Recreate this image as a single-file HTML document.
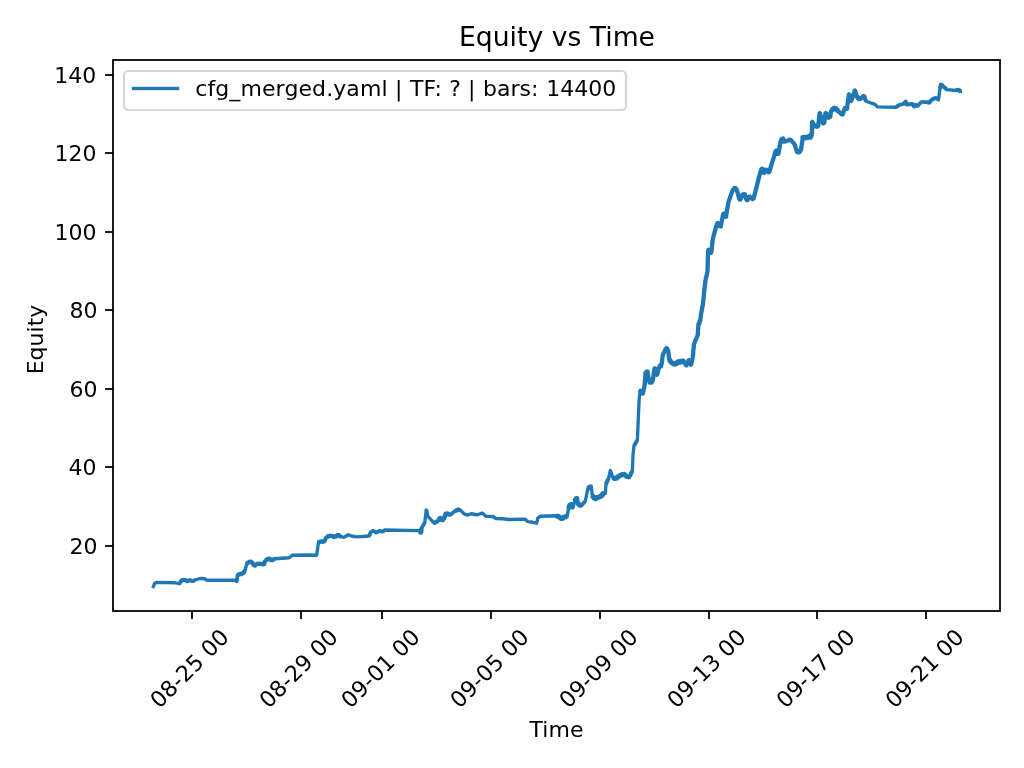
<!DOCTYPE html>
<html lang="en">
<head>
<meta charset="utf-8">
<title>Equity vs Time</title>
<style>
html,body{margin:0;padding:0;background:#fff;}
body{width:1024px;height:768px;overflow:hidden;}
svg{display:block;}
text{font-family:"DejaVu Sans", "Liberation Sans", sans-serif;fill:#000;}
.t10{font-size:22px;}
.t10r{font-size:22.222px;}
.t10v{font-size:22px;}
.t12{font-size:26.667px;}
.ax{stroke:#000;stroke-width:1.778;fill:none;}
</style>
</head>
<body>
<svg width="1024" height="768" viewBox="0 0 1024 768">
<rect x="0" y="0" width="1024" height="768" fill="#ffffff"/>
<!-- tick marks -->
<g class="ax" stroke-linecap="butt">
<line x1="192" y1="611" x2="192" y2="619"/>
<line x1="301" y1="611" x2="301" y2="619"/>
<line x1="382" y1="611" x2="382" y2="619"/>
<line x1="491" y1="611" x2="491" y2="619"/>
<line x1="600" y1="611" x2="600" y2="619"/>
<line x1="709" y1="611" x2="709" y2="619"/>
<line x1="817" y1="611" x2="817" y2="619"/>
<line x1="926" y1="611" x2="926" y2="619"/>
<line x1="105" y1="75" x2="113" y2="75"/>
<line x1="105" y1="153" x2="113" y2="153"/>
<line x1="105" y1="232" x2="113" y2="232"/>
<line x1="105" y1="310" x2="113" y2="310"/>
<line x1="105" y1="389" x2="113" y2="389"/>
<line x1="105" y1="467" x2="113" y2="467"/>
<line x1="105" y1="546" x2="113" y2="546"/>
</g>
<!-- x tick labels -->
<g class="t10r" text-anchor="middle">
<text transform="translate(190.70 669.66) rotate(-45)" y="6.0">08-25 00</text>
<text transform="translate(299.74 669.66) rotate(-45)" y="6.0">08-29 00</text>
<text transform="translate(381.57 669.66) rotate(-45)" y="6.0">09-01 00</text>
<text transform="translate(490.61 669.66) rotate(-45)" y="6.0">09-05 00</text>
<text transform="translate(599.64 669.66) rotate(-45)" y="6.0">09-09 00</text>
<text transform="translate(707.68 669.66) rotate(-45)" y="6.0">09-13 00</text>
<text transform="translate(816.71 669.66) rotate(-45)" y="6.0">09-17 00</text>
<text transform="translate(925.75 669.66) rotate(-45)" y="6.0">09-21 00</text>
</g>
<!-- y tick labels -->
<g class="t10" text-anchor="end">
<text x="96.25" y="83">140</text>
<text x="96.50" y="161">120</text>
<text x="96.50" y="240">100</text>
<text x="97.50" y="318">80</text>
<text x="97.50" y="397">60</text>
<text x="96.50" y="475">40</text>
<text x="97.50" y="554">20</text>
</g>
<!-- axis labels and title -->
<text class="t10" x="556.5" y="737" text-anchor="middle">Time</text>
<text class="t10v" transform="translate(42.5 339.5) rotate(-90)" text-anchor="middle">Equity</text>
<text class="t12" x="556.95" y="45.65" text-anchor="middle">Equity vs Time</text>
<!-- equity curve -->
<svg x="113" y="60" width="887" height="551" viewBox="113 60 887 551" overflow="hidden">
<path d="M153.38 586.50 L154.62 583.38 L156.75 582.38 L175.00 582.75 L179.38 583.75 L179.99 583.55 L179.60 582.70 L180.55 582.72 L180.16 581.86 L181.10 581.89 L180.71 581.03 L181.66 581.05 L181.27 580.20 L181.88 580.00 L182.43 580.36 L182.89 579.52 L183.47 580.27 L183.93 579.43 L184.51 580.19 L185.00 579.75 L185.70 579.78 L185.65 580.77 L186.60 580.48 L186.55 581.47 L187.25 581.50 L187.45 580.87 L188.33 581.23 L188.30 580.27 L189.18 580.63 L189.38 580.00 L190.04 579.80 L190.32 580.74 L191.11 580.16 L191.39 581.09 L192.18 580.51 L192.46 581.45 L193.12 581.25 L193.37 580.60 L194.28 580.96 L194.31 579.98 L195.00 580.00 L200.00 578.50 L204.38 578.75 L206.88 580.25 L235.00 580.25 L236.88 581.50 L237.12 581.02 L236.78 580.48 L237.22 580.02 L236.88 579.48 L237.31 579.02 L236.97 578.48 L237.41 578.02 L237.07 577.48 L237.50 577.02 L237.16 576.48 L237.60 576.02 L237.26 575.48 L237.50 575.00 L238.22 575.36 L238.28 574.04 L239.22 574.96 L239.28 573.64 L240.00 574.00 L240.60 574.55 L241.05 573.30 L241.70 574.45 L242.15 573.20 L242.75 573.75 L243.56 573.65 L242.91 572.51 L244.20 572.76 L243.55 571.61 L244.84 571.86 L244.19 570.72 L245.00 570.62 L245.21 570.15 L245.20 569.62 L245.48 569.17 L245.46 568.64 L245.74 568.19 L245.73 567.66 L246.01 567.20 L246.00 566.67 L246.28 566.22 L246.27 565.69 L246.55 565.24 L246.54 564.71 L246.82 564.26 L246.88 563.75 L246.83 562.95 L248.05 563.43 L247.58 562.20 L248.80 562.68 L248.75 561.88 L249.27 561.28 L249.79 562.48 L250.31 561.28 L250.84 562.48 L251.36 561.28 L251.88 561.88 L251.70 562.62 L252.89 562.52 L252.25 563.53 L253.45 563.43 L252.81 564.45 L254.01 564.35 L253.37 565.36 L254.56 565.26 L254.38 566.00 L255.20 566.07 L254.81 564.80 L256.03 565.32 L255.65 564.05 L256.86 564.57 L256.88 563.75 L257.43 563.15 L257.97 564.35 L258.52 563.15 L259.06 564.35 L259.61 563.15 L260.16 564.35 L260.70 563.15 L261.25 563.75 L261.53 564.51 L262.47 563.59 L262.53 564.91 L263.47 563.99 L263.75 564.75 L264.49 564.45 L263.54 563.55 L264.85 563.45 L263.90 562.55 L265.21 562.45 L264.26 561.55 L265.00 561.25 L265.38 560.62 L266.18 560.81 L265.98 559.50 L267.12 560.18 L266.92 558.87 L268.05 559.56 L267.85 558.25 L268.99 558.93 L269.12 558.12 L269.90 558.05 L269.41 559.26 L270.62 558.77 L270.12 559.97 L271.33 559.48 L270.84 560.69 L271.62 560.62 L271.76 559.84 L272.82 560.60 L272.65 559.30 L273.72 560.07 L273.55 558.77 L274.61 559.53 L274.75 558.75 L289.12 557.75 L292.25 555.25 L309.75 555.00 L316.62 555.25 L318.50 542.50 L318.64 541.69 L319.77 542.37 L319.58 541.06 L320.38 541.25 L320.81 541.93 L321.55 540.84 L321.88 542.11 L322.62 541.02 L322.95 542.29 L323.69 541.20 L324.12 541.88 L324.69 541.60 L324.23 540.80 L325.14 540.69 L324.69 539.89 L325.60 539.78 L325.14 538.98 L326.05 538.87 L325.60 538.07 L326.51 537.96 L326.05 537.16 L326.62 536.88 L327.27 537.31 L327.43 536.03 L328.24 537.03 L328.40 535.75 L329.22 536.75 L329.38 535.47 L330.19 536.47 L330.35 535.19 L331.00 535.62 L331.23 536.37 L332.18 535.48 L332.17 536.78 L333.11 535.88 L333.10 537.19 L334.05 536.29 L334.04 537.60 L334.75 537.25 L334.77 536.47 L335.91 537.09 L335.55 535.84 L336.69 536.47 L336.33 535.22 L337.47 535.84 L337.11 534.59 L337.88 534.75 L337.99 535.55 L339.11 534.86 L338.88 536.16 L340.00 535.47 L339.77 536.77 L340.89 536.08 L341.00 536.88 L344.12 537.25 L348.25 534.75 L352.25 536.25 L357.25 536.88 L369.12 536.00 L369.60 535.67 L369.27 534.96 L370.02 534.75 L369.69 534.05 L370.43 533.83 L370.10 533.13 L370.85 532.92 L370.52 532.21 L371.00 531.88 L371.64 531.90 L371.86 531.11 L372.64 531.39 L372.86 530.60 L373.50 530.62 L373.72 531.20 L374.53 531.10 L374.56 531.91 L375.36 531.81 L375.39 532.62 L376.00 532.75 L376.30 532.24 L377.04 532.51 L377.19 531.74 L377.93 532.01 L378.08 531.24 L378.82 531.51 L379.12 531.00 L379.12 530.75 L379.73 530.60 L380.12 531.33 L380.81 530.89 L381.19 531.61 L381.88 531.17 L382.27 531.90 L382.88 531.75 L383.05 531.18 L383.83 531.27 L383.80 530.48 L384.58 530.57 L384.75 530.00 L419.75 530.62 L420.63 530.81 L419.62 531.93 L421.13 531.81 L420.12 532.93 L421.00 533.12 L420.49 532.55 L421.69 532.19 L420.62 531.55 L421.82 531.19 L420.74 530.55 L421.94 530.19 L420.86 529.55 L422.07 529.19 L420.99 528.55 L421.62 528.12 L422.10 527.77 L421.92 527.06 L422.62 526.84 L422.45 526.13 L423.14 525.90 L422.97 525.19 L423.66 524.96 L423.49 524.25 L424.19 524.03 L424.01 523.32 L424.71 523.09 L424.75 522.50 L426.25 510.00 L426.75 510.44 L426.02 511.10 L426.93 511.46 L426.20 512.12 L427.12 512.48 L426.38 513.14 L427.30 513.50 L426.57 514.16 L427.48 514.52 L426.75 515.18 L427.25 515.62 L434.12 523.12 L434.27 522.37 L435.28 523.12 L435.15 521.87 L436.16 522.62 L436.03 521.37 L437.03 522.12 L436.90 520.87 L437.91 521.62 L437.78 520.37 L438.50 520.62 L439.37 520.54 L438.44 519.37 L439.91 519.64 L438.97 518.48 L440.44 518.75 L439.51 517.58 L440.38 517.50 L440.05 518.31 L441.51 518.03 L440.58 519.20 L442.05 518.92 L441.12 520.09 L442.58 519.81 L442.25 520.62 L443.14 520.58 L442.33 519.32 L443.78 519.69 L442.97 518.43 L444.42 518.80 L443.61 517.54 L444.50 517.50 L445.30 517.23 L444.20 516.31 L445.63 516.26 L444.53 515.34 L445.97 515.28 L444.87 514.36 L446.30 514.31 L445.20 513.39 L446.00 513.12 L446.24 513.92 L447.22 512.95 L447.21 514.33 L448.20 513.37 L448.18 514.75 L449.17 513.79 L449.16 515.17 L450.14 514.20 L450.38 515.00 L450.90 514.81 L451.02 514.18 L451.66 514.14 L451.79 513.50 L452.43 513.47 L452.56 512.83 L453.20 512.79 L453.33 512.15 L453.97 512.12 L454.10 511.48 L454.74 511.44 L454.86 510.81 L455.38 510.62 L456.10 511.14 L456.21 509.64 L457.13 510.83 L457.24 509.33 L458.16 510.52 L458.27 509.02 L459.19 510.21 L459.50 509.38 L459.92 509.69 L460.21 510.14 L460.67 510.41 L460.96 510.85 L461.42 511.12 L461.71 511.57 L462.17 511.84 L462.46 512.28 L462.92 512.55 L463.21 512.99 L463.67 513.27 L463.96 513.71 L464.42 513.98 L464.75 514.38 L467.88 515.00 L471.00 513.75 L477.25 514.75 L482.25 513.12 L486.00 516.25 L492.88 516.50 L496.00 518.50 L502.88 518.75 L508.50 519.50 L524.75 519.12 L527.88 521.62 L532.88 522.25 L536.62 523.25 L537.88 517.88 L540.38 516.25 L556.62 515.75 L556.71 516.90 L558.10 515.35 L557.75 517.40 L559.14 515.85 L558.80 517.90 L559.75 517.25 L560.84 516.85 L560.01 518.77 L561.74 517.60 L560.91 519.52 L562.00 519.12 L561.59 518.06 L563.47 518.93 L562.30 517.22 L564.18 518.10 L563.00 516.39 L564.12 516.62 L564.57 517.69 L565.40 515.78 L565.72 517.84 L566.55 515.93 L567.00 517.00 L568.50 508.50 L569.43 508.32 L568.13 507.26 L569.81 507.37 L568.51 506.31 L570.18 506.42 L568.89 505.36 L570.56 505.47 L569.26 504.41 L570.93 504.52 L570.38 503.75 L571.42 503.75 L570.17 505.13 L571.98 504.67 L570.73 506.05 L572.53 505.58 L571.28 506.96 L573.09 506.50 L571.84 507.88 L572.88 507.88 L572.89 507.36 L573.27 506.93 L573.16 506.37 L573.53 505.95 L573.43 505.39 L573.80 504.96 L573.70 504.41 L574.07 503.98 L573.96 503.42 L574.33 503.00 L574.23 502.44 L574.60 502.02 L574.50 501.46 L574.75 501.00 L575.87 501.10 L574.47 499.58 L576.43 500.23 L575.03 498.71 L577.00 499.35 L575.60 497.83 L577.56 498.48 L577.00 497.50 L577.55 497.93 L576.67 498.57 L577.69 498.93 L576.82 499.57 L577.84 499.93 L576.97 500.57 L577.99 500.93 L577.11 501.57 L578.13 501.93 L577.26 502.57 L578.28 502.93 L577.88 503.50 L577.70 504.64 L579.40 503.43 L578.59 505.35 L580.29 504.15 L579.48 506.07 L581.18 504.86 L581.00 506.00 L581.55 505.80 L581.46 505.04 L582.22 505.03 L582.13 504.27 L582.90 504.26 L582.81 503.50 L583.57 503.50 L583.48 502.74 L584.25 502.73 L584.16 501.97 L584.92 501.96 L584.83 501.20 L585.38 501.00 L587.88 488.50 L588.86 489.05 L588.17 487.11 L589.70 488.49 L589.01 486.54 L590.54 487.93 L589.85 485.98 L591.38 487.36 L591.25 486.25 L592.25 495.38 L593.39 495.29 L592.04 496.87 L594.02 496.23 L592.67 497.81 L594.64 497.16 L593.29 498.74 L595.27 498.10 L594.75 499.12 L595.71 499.71 L595.13 497.73 L596.60 499.18 L596.03 497.19 L597.50 498.64 L596.92 496.66 L597.88 497.25 L598.73 498.02 L598.63 495.94 L599.80 497.66 L599.70 495.59 L600.87 497.31 L600.77 495.23 L601.62 496.00 L602.75 496.07 L601.30 494.59 L603.28 495.18 L601.84 493.70 L603.82 494.29 L602.37 492.81 L603.50 492.88 L603.81 494.04 L605.07 492.34 L605.38 493.50 L606.00 484.12 L606.62 483.83 L606.01 483.00 L607.04 482.90 L606.42 482.06 L607.45 481.96 L606.84 481.13 L607.87 481.02 L607.26 480.19 L608.29 480.09 L607.67 479.25 L608.70 479.15 L608.50 478.50 L610.38 470.38 L613.00 478.25 L613.60 477.29 L613.96 479.33 L614.64 477.38 L615.00 479.41 L615.68 477.46 L616.12 478.50 L617.14 478.97 L616.28 477.09 L617.92 478.34 L617.06 476.47 L618.70 477.72 L617.84 475.84 L619.48 477.09 L619.25 476.00 L619.35 474.97 L620.61 476.32 L620.32 474.50 L621.58 475.85 L621.29 474.03 L622.55 475.38 L622.26 473.56 L623.52 474.91 L623.62 473.88 L624.59 473.56 L623.90 475.24 L625.43 474.25 L624.73 475.94 L626.27 474.94 L625.57 476.63 L627.10 475.64 L626.41 477.32 L627.38 477.00 L627.64 475.91 L628.62 477.72 L628.64 475.66 L629.62 477.47 L629.88 476.38 L629.68 475.73 L630.70 475.62 L630.10 474.79 L631.12 474.68 L630.51 473.85 L631.54 473.75 L630.93 472.91 L631.95 472.81 L631.35 471.98 L632.37 471.87 L631.76 471.04 L632.38 470.75 L633.00 454.50 L634.00 445.75 L634.53 445.48 L634.25 444.72 L635.05 444.61 L634.77 443.86 L635.57 443.74 L635.29 442.99 L636.09 442.88 L635.81 442.13 L636.61 442.01 L636.33 441.26 L637.13 441.15 L636.85 440.39 L637.38 440.12 L638.00 425.75 L638.62 410.75 L639.25 398.25 L640.25 390.25 L639.70 391.22 L641.64 390.53 L640.25 392.05 L642.19 391.36 L640.81 392.89 L642.75 392.20 L641.36 393.72 L643.30 393.03 L642.75 394.00 L643.35 393.59 L642.48 392.87 L643.57 392.56 L642.70 391.84 L643.79 391.53 L642.92 390.81 L644.01 390.50 L643.14 389.78 L644.23 389.47 L643.36 388.75 L644.45 388.44 L643.58 387.72 L644.67 387.41 L643.80 386.69 L644.89 386.38 L644.02 385.66 L644.62 385.25 L645.16 384.78 L644.20 384.19 L645.24 383.75 L644.28 383.17 L645.32 382.73 L644.36 382.14 L645.40 381.71 L644.44 381.12 L645.48 380.69 L644.52 380.10 L645.56 379.66 L644.60 379.07 L645.64 378.64 L644.68 378.05 L645.72 377.62 L644.76 377.03 L645.80 376.60 L644.84 376.01 L645.88 375.57 L644.92 374.98 L645.96 374.55 L645.50 374.00 L644.94 373.01 L646.91 373.65 L645.52 372.12 L647.48 372.76 L646.09 371.23 L648.06 371.87 L647.50 370.88 L648.07 371.32 L647.15 371.96 L648.21 372.33 L647.29 372.97 L648.35 373.34 L647.43 373.98 L648.50 374.35 L647.58 375.00 L648.64 375.36 L647.72 376.01 L648.78 376.37 L647.86 377.02 L648.92 377.38 L648.00 378.03 L649.07 378.40 L648.15 379.04 L649.21 379.41 L648.29 380.05 L649.35 380.42 L648.43 381.06 L649.00 381.50 L650.09 381.09 L649.32 383.03 L651.03 381.84 L650.88 383.00 L651.99 383.02 L650.48 381.65 L652.46 382.13 L650.95 380.76 L652.93 381.24 L651.42 379.87 L653.40 380.35 L651.89 378.98 L653.00 379.00 L653.57 378.56 L652.65 377.91 L653.72 377.54 L652.80 376.88 L653.86 376.51 L652.95 375.86 L654.01 375.49 L653.09 374.84 L654.16 374.47 L653.24 373.82 L654.30 373.45 L653.39 372.79 L654.45 372.42 L653.54 371.77 L654.60 371.40 L653.68 370.75 L654.75 370.38 L653.83 369.72 L654.89 369.36 L653.98 368.70 L655.04 368.33 L654.62 367.75 L655.26 368.09 L654.48 368.91 L655.59 369.09 L654.81 369.91 L655.93 370.09 L655.15 370.91 L656.26 371.09 L655.48 371.91 L656.59 372.09 L655.81 372.91 L656.93 373.09 L656.15 373.91 L657.26 374.09 L656.48 374.91 L657.12 375.25 L656.75 374.63 L657.84 374.35 L656.99 373.61 L658.08 373.33 L657.22 372.60 L658.31 372.31 L657.46 371.58 L658.55 371.30 L657.69 370.56 L658.78 370.28 L657.93 369.55 L659.02 369.27 L658.16 368.53 L659.25 368.25 L658.40 367.52 L659.00 367.12 L660.02 367.61 L659.23 365.70 L660.85 366.99 L660.07 365.07 L661.68 366.36 L661.50 365.25 L661.07 364.69 L662.12 364.31 L661.19 363.69 L662.25 363.31 L661.32 362.69 L662.37 362.31 L661.44 361.69 L662.50 361.31 L661.57 360.69 L662.62 360.31 L661.69 359.69 L662.75 359.31 L661.82 358.69 L662.87 358.31 L661.94 357.69 L663.00 357.31 L662.07 356.69 L663.12 356.31 L662.19 355.69 L662.75 355.25 L663.42 354.99 L662.73 354.10 L663.86 354.06 L663.17 353.16 L664.30 353.12 L663.61 352.23 L664.73 352.18 L664.05 351.29 L665.17 351.24 L664.48 350.35 L665.61 350.31 L664.92 349.41 L666.05 349.37 L665.36 348.48 L666.48 348.43 L666.25 347.75 L667.28 347.85 L665.93 349.11 L667.75 348.82 L666.41 350.08 L668.22 349.79 L666.88 351.05 L668.70 350.76 L667.35 352.02 L668.38 352.12 L668.93 352.56 L668.00 353.18 L669.05 353.56 L668.12 354.18 L669.17 354.56 L668.23 355.18 L669.28 355.56 L668.35 356.18 L669.40 356.56 L668.46 357.18 L669.51 357.56 L668.58 358.18 L669.63 358.56 L668.70 359.18 L669.25 359.62 L670.30 359.48 L669.15 361.02 L670.94 360.31 L669.79 361.85 L671.58 361.15 L670.43 362.69 L672.22 361.98 L671.07 363.52 L672.12 363.38 L672.88 362.53 L672.97 364.60 L673.96 362.78 L674.04 364.85 L675.03 363.03 L675.12 365.10 L675.88 364.25 L675.52 363.22 L677.28 364.16 L676.21 362.47 L677.98 363.41 L676.90 361.72 L678.67 362.66 L677.60 360.97 L679.36 361.91 L679.00 360.88 L680.09 360.48 L679.26 362.40 L680.99 361.23 L680.16 363.15 L681.25 362.75 L680.84 361.68 L682.72 362.57 L681.55 360.85 L683.43 361.73 L682.26 360.02 L683.38 360.25 L683.20 360.96 L684.34 360.95 L683.72 361.90 L684.86 361.88 L684.24 362.84 L685.38 362.82 L684.76 363.78 L685.90 363.76 L685.28 364.71 L686.42 364.70 L685.80 365.65 L686.50 365.88 L686.20 365.23 L687.32 365.09 L686.55 364.27 L687.66 364.12 L686.89 363.30 L688.01 363.16 L687.24 362.34 L688.36 362.20 L687.59 361.38 L688.70 361.23 L687.93 360.41 L689.05 360.27 L688.75 359.62 L689.40 359.91 L688.64 360.74 L689.75 360.85 L688.99 361.67 L690.11 361.79 L689.35 362.61 L690.46 362.73 L689.70 363.55 L690.82 363.67 L690.06 364.49 L691.17 364.60 L690.88 365.25 L691.49 364.87 L690.64 364.13 L691.74 363.87 L690.89 363.13 L691.99 362.87 L691.14 362.13 L692.24 361.87 L691.39 361.13 L692.49 360.87 L691.64 360.13 L692.74 359.87 L691.89 359.13 L692.99 358.87 L692.14 358.13 L692.75 357.75 L693.29 357.29 L692.34 356.69 L693.39 356.27 L692.44 355.67 L693.48 355.25 L692.53 354.65 L693.57 354.23 L692.62 353.63 L693.66 353.21 L692.72 352.61 L693.76 352.19 L692.81 351.59 L693.85 351.17 L692.90 350.58 L693.94 350.16 L692.99 349.56 L694.03 349.14 L693.09 348.54 L694.13 348.12 L693.18 347.52 L694.22 347.10 L693.27 346.50 L694.31 346.08 L693.36 345.48 L694.41 345.06 L693.46 344.46 L694.00 344.00 L694.66 343.74 L693.94 342.88 L695.05 342.82 L694.33 341.96 L695.45 341.89 L694.72 341.04 L695.84 340.97 L695.12 340.12 L696.24 340.05 L695.51 339.20 L696.63 339.13 L695.91 338.28 L697.03 338.21 L696.30 337.36 L697.42 337.29 L696.70 336.43 L697.81 336.37 L697.09 335.51 L697.75 335.25 L698.28 334.78 L697.31 334.22 L698.34 333.78 L697.38 333.22 L698.41 332.78 L697.44 332.22 L698.47 331.78 L697.50 331.22 L698.53 330.78 L697.57 330.22 L698.60 329.78 L697.63 329.22 L698.66 328.78 L697.69 328.22 L698.72 327.78 L697.75 327.22 L698.78 326.78 L697.82 326.22 L698.85 325.78 L698.38 325.25 L697.89 324.50 L699.43 324.50 L698.27 323.50 L699.80 323.50 L698.64 322.50 L700.18 322.50 L699.01 321.50 L700.55 321.50 L699.39 320.50 L700.25 320.25 L700.82 319.81 L699.90 319.15 L700.97 318.78 L700.05 318.12 L701.11 317.75 L700.20 317.09 L701.26 316.72 L700.34 316.06 L701.41 315.69 L700.49 315.03 L701.55 314.66 L700.64 314.00 L701.70 313.63 L700.78 312.97 L701.85 312.60 L700.93 311.94 L701.50 311.50 L702.09 311.10 L701.21 310.40 L702.29 310.10 L701.41 309.40 L702.49 309.10 L701.61 308.40 L702.69 308.10 L701.81 307.40 L702.89 307.10 L702.01 306.40 L703.09 306.10 L702.21 305.40 L703.29 305.10 L702.41 304.40 L703.00 304.00 L703.55 303.55 L702.60 302.95 L703.64 302.55 L702.69 301.95 L703.74 301.55 L702.79 300.95 L703.83 300.55 L702.88 299.95 L703.93 299.55 L702.98 298.95 L704.02 298.55 L703.07 297.95 L704.12 297.55 L703.17 296.95 L704.21 296.55 L703.26 295.95 L704.31 295.55 L703.36 294.95 L704.40 294.55 L703.45 293.95 L704.50 293.55 L703.55 292.95 L704.59 292.55 L703.64 291.95 L704.69 291.55 L703.74 290.95 L704.78 290.55 L703.83 289.95 L704.38 289.50 L704.94 289.06 L704.01 288.44 L705.06 288.06 L704.13 287.44 L705.19 287.06 L704.26 286.44 L705.31 286.06 L704.38 285.44 L705.43 285.06 L704.50 284.44 L705.56 284.06 L704.63 283.44 L705.68 283.06 L704.75 282.44 L705.81 282.06 L704.88 281.44 L705.93 281.06 L705.00 280.44 L706.05 280.06 L705.62 279.50 L705.26 278.88 L706.36 278.62 L705.51 277.88 L706.61 277.62 L705.76 276.88 L706.86 276.62 L706.01 275.88 L707.11 275.62 L706.26 274.88 L707.36 274.62 L706.51 273.88 L707.61 273.62 L706.76 272.88 L707.86 272.62 L707.50 272.00 L707.01 271.49 L708.03 271.01 L707.04 270.49 L708.05 270.01 L707.07 269.49 L708.08 269.01 L707.10 268.49 L708.11 268.01 L707.12 267.49 L708.14 267.01 L707.15 266.49 L708.17 266.01 L707.18 265.49 L708.19 265.01 L707.21 264.49 L708.22 264.01 L707.23 263.49 L708.25 263.01 L707.26 262.49 L708.28 262.01 L707.29 261.49 L708.30 261.01 L707.32 260.49 L708.33 260.01 L707.34 259.49 L708.36 259.01 L707.37 258.49 L708.39 258.01 L707.40 257.49 L708.41 257.01 L707.43 256.49 L708.44 256.01 L707.45 255.49 L708.47 255.01 L707.48 254.49 L708.50 254.01 L707.51 253.49 L708.52 253.01 L707.54 252.49 L708.55 252.01 L707.57 251.49 L708.58 251.01 L707.59 250.49 L708.61 250.01 L708.12 249.50 L709.14 249.36 L708.15 250.89 L709.83 250.19 L708.84 251.73 L710.53 251.02 L709.54 252.56 L711.22 251.86 L710.23 253.39 L711.25 253.25 L710.81 252.69 L711.86 252.29 L710.92 251.67 L711.97 251.27 L711.03 250.65 L712.08 250.25 L711.14 249.63 L712.19 249.23 L711.25 248.61 L712.30 248.21 L711.36 247.59 L712.41 247.19 L711.48 246.58 L712.52 246.17 L711.59 245.56 L712.64 245.16 L711.70 244.54 L712.75 244.14 L711.81 243.52 L712.86 243.12 L711.92 242.50 L712.97 242.10 L712.03 241.48 L713.08 241.08 L712.14 240.46 L713.19 240.06 L712.75 239.50 L712.39 238.89 L713.48 238.65 L712.64 237.91 L713.73 237.67 L712.89 236.93 L713.98 236.69 L713.14 235.95 L714.23 235.71 L713.39 234.97 L714.48 234.73 L713.64 234.00 L714.73 233.75 L713.89 233.02 L714.98 232.78 L714.14 232.04 L715.23 231.80 L714.39 231.06 L715.48 230.82 L714.64 230.08 L715.73 229.84 L714.89 229.10 L715.98 228.86 L715.62 228.25 L715.30 227.57 L716.46 227.39 L715.64 226.55 L716.80 226.37 L715.98 225.53 L717.14 225.34 L716.32 224.50 L717.48 224.32 L716.66 223.48 L717.82 223.30 L717.50 222.62 L718.39 222.65 L717.55 223.91 L719.01 223.52 L718.17 224.78 L719.64 224.40 L718.80 225.66 L720.26 225.28 L719.42 226.53 L720.88 226.15 L720.62 227.00 L721.21 226.60 L720.33 225.91 L721.41 225.61 L720.52 224.92 L721.60 224.62 L720.72 223.93 L721.80 223.63 L720.92 222.94 L722.00 222.64 L721.12 221.95 L722.19 221.64 L721.31 220.95 L722.39 220.65 L721.51 219.96 L722.59 219.66 L721.71 218.97 L722.79 218.67 L721.90 217.98 L722.98 217.68 L722.10 216.99 L723.18 216.69 L722.30 216.00 L723.38 215.70 L722.50 215.01 L723.57 214.70 L722.69 214.01 L723.77 213.71 L723.38 213.12 L724.34 213.15 L723.17 214.40 L724.84 214.03 L723.67 215.28 L725.34 214.90 L724.17 216.15 L725.84 215.78 L724.67 217.03 L726.34 216.66 L725.88 217.50 L726.46 217.08 L725.55 216.42 L726.62 216.08 L725.72 215.42 L726.79 215.08 L725.89 214.42 L726.96 214.08 L726.05 213.42 L727.12 213.08 L726.22 212.42 L727.29 212.08 L726.39 211.42 L727.46 211.08 L726.55 210.42 L727.62 210.08 L726.72 209.42 L727.79 209.08 L726.89 208.42 L727.96 208.08 L727.05 207.42 L728.12 207.08 L727.22 206.42 L728.29 206.08 L727.39 205.42 L728.46 205.08 L727.55 204.42 L728.62 204.08 L727.72 203.42 L728.79 203.08 L728.38 202.50 L728.07 201.84 L729.19 201.66 L728.41 200.84 L729.52 200.66 L728.74 199.84 L729.85 199.66 L729.07 198.84 L730.19 198.66 L729.41 197.84 L730.52 197.66 L729.74 196.84 L730.85 196.66 L730.07 195.84 L731.19 195.66 L730.88 195.00 L730.61 194.33 L731.73 194.22 L730.99 193.37 L732.11 193.26 L731.38 192.41 L732.50 192.30 L731.76 191.45 L732.88 191.34 L732.15 190.49 L733.27 190.38 L732.53 189.53 L733.65 189.42 L733.38 188.75 L733.90 187.75 L734.42 189.75 L734.94 187.75 L735.46 189.75 L735.98 187.75 L736.50 188.75 L736.15 189.37 L737.25 189.59 L736.43 190.35 L737.52 190.57 L736.70 191.33 L737.80 191.55 L736.97 192.31 L738.07 192.53 L737.24 193.29 L738.34 193.51 L737.51 194.26 L738.61 194.49 L737.78 195.24 L738.88 195.46 L738.05 196.22 L739.15 196.44 L738.32 197.20 L739.42 197.42 L738.60 198.18 L739.69 198.40 L738.87 199.16 L739.97 199.38 L739.62 200.00 L740.75 199.98 L739.20 198.61 L741.22 199.04 L739.67 197.68 L741.69 198.10 L740.14 196.74 L742.16 197.17 L741.50 196.25 L741.32 195.11 L743.02 196.32 L742.21 194.40 L743.91 195.60 L743.10 193.68 L744.80 194.89 L744.62 193.75 L745.25 194.09 L744.45 194.88 L745.55 195.07 L744.75 195.86 L745.86 196.06 L745.06 196.84 L746.16 197.04 L745.36 197.82 L746.47 198.02 L745.66 198.81 L746.77 199.00 L745.97 199.79 L747.08 199.98 L746.75 200.62 L747.77 200.53 L746.48 199.25 L748.27 199.56 L746.98 198.28 L748.77 198.59 L747.48 197.31 L749.27 197.62 L747.98 196.34 L749.00 196.25 L749.03 197.14 L750.29 196.30 L749.90 197.76 L751.16 196.93 L750.78 198.39 L752.04 197.55 L751.66 199.02 L752.91 198.18 L752.53 199.64 L753.38 199.38 L753.03 198.76 L754.12 198.51 L753.28 197.77 L754.38 197.52 L753.54 196.77 L754.64 196.53 L753.80 195.78 L754.90 195.54 L754.06 194.79 L755.15 194.55 L754.31 193.80 L755.41 193.56 L754.57 192.81 L755.67 192.56 L754.83 191.82 L755.93 191.57 L755.09 190.82 L756.19 190.58 L755.35 189.83 L756.44 189.59 L755.60 188.84 L756.70 188.60 L755.86 187.85 L756.96 187.61 L756.12 186.86 L757.22 186.61 L756.38 185.87 L757.47 185.62 L757.12 185.00 L756.76 184.38 L757.86 184.12 L757.01 183.38 L758.11 183.12 L757.26 182.38 L758.36 182.12 L757.51 181.38 L758.61 181.12 L757.76 180.38 L758.86 180.12 L758.01 179.38 L759.11 179.12 L758.26 178.38 L759.36 178.12 L758.51 177.38 L759.61 177.12 L758.76 176.38 L759.86 176.12 L759.01 175.38 L759.62 175.00 L760.25 174.66 L759.45 173.87 L760.55 173.67 L759.75 172.89 L760.86 172.69 L760.06 171.90 L761.16 171.71 L760.36 170.92 L761.47 170.73 L760.66 169.94 L761.77 169.74 L760.97 168.95 L762.08 168.76 L761.75 168.12 L762.62 168.39 L761.37 169.35 L762.95 169.39 L761.69 170.35 L763.28 170.39 L762.02 171.35 L763.60 171.39 L762.34 172.35 L763.93 172.39 L763.38 173.12 L764.40 173.27 L763.40 171.73 L765.09 172.43 L764.09 170.90 L765.79 171.60 L764.79 170.07 L766.48 170.77 L765.48 169.23 L766.50 169.38 L766.09 170.43 L767.94 169.50 L766.78 171.21 L768.63 170.28 L767.47 171.99 L769.31 171.06 L768.16 172.77 L769.25 172.50 L768.91 171.86 L770.02 171.64 L769.20 170.86 L770.30 170.64 L769.49 169.86 L770.59 169.64 L769.77 168.86 L770.88 168.64 L770.06 167.86 L771.17 167.64 L770.35 166.86 L771.45 166.64 L770.63 165.86 L771.74 165.64 L770.92 164.86 L772.03 164.64 L771.21 163.86 L772.31 163.64 L771.50 162.86 L772.12 162.50 L772.76 162.16 L771.98 161.34 L773.09 161.16 L772.31 160.34 L773.43 160.16 L772.65 159.34 L773.76 159.16 L772.98 158.34 L774.09 158.16 L773.31 157.34 L774.43 157.16 L773.65 156.34 L774.76 156.16 L773.98 155.34 L774.62 155.00 L775.49 154.73 L774.24 153.77 L775.82 153.73 L774.56 152.77 L776.15 152.73 L774.89 151.77 L776.47 151.73 L775.21 150.77 L776.80 150.73 L776.25 150.00 L777.27 150.10 L775.94 151.36 L777.75 151.08 L776.41 152.33 L778.22 152.05 L776.88 153.30 L778.69 153.02 L777.36 154.28 L778.38 154.38 L777.97 153.79 L779.04 153.44 L778.14 152.76 L779.21 152.41 L778.31 151.74 L779.38 151.39 L778.48 150.72 L779.55 150.37 L778.65 149.69 L779.72 149.34 L778.82 148.67 L779.89 148.32 L778.99 147.64 L780.06 147.30 L779.16 146.62 L780.23 146.27 L779.33 145.60 L780.40 145.25 L779.50 144.57 L780.57 144.23 L779.67 143.55 L780.25 143.12 L781.11 142.87 L779.95 141.87 L781.49 141.87 L780.32 140.87 L781.86 140.87 L780.70 139.87 L782.23 139.87 L781.07 138.87 L782.61 138.87 L782.12 138.12 L783.23 137.99 L781.85 139.51 L783.78 138.82 L782.40 140.34 L784.34 139.66 L782.96 141.18 L784.89 140.49 L783.51 142.01 L784.62 141.88 L784.89 141.21 L785.76 141.92 L785.82 140.80 L786.70 141.50 L786.76 140.38 L787.64 141.09 L787.70 139.96 L788.58 140.67 L788.64 139.55 L789.51 140.25 L789.58 139.13 L790.25 139.38 L790.21 140.09 L791.30 139.82 L790.88 140.86 L791.97 140.59 L791.55 141.63 L792.64 141.36 L792.23 142.40 L793.32 142.13 L792.90 143.17 L793.99 142.90 L793.57 143.94 L794.66 143.67 L794.62 144.38 L794.30 145.03 L795.41 145.25 L794.61 146.05 L795.72 146.26 L794.92 147.06 L796.04 147.28 L795.24 148.08 L796.35 148.29 L795.55 149.09 L796.66 149.31 L795.86 150.11 L796.97 150.32 L796.17 151.12 L797.29 151.34 L796.49 152.14 L797.12 152.50 L797.14 151.37 L798.51 152.92 L798.08 150.90 L799.45 152.45 L799.02 150.43 L800.39 151.98 L799.96 149.96 L800.88 150.62 L801.45 150.19 L800.54 149.55 L801.60 149.19 L800.68 148.55 L801.75 148.19 L800.83 147.55 L801.90 147.19 L800.98 146.55 L802.05 146.19 L801.13 145.55 L802.20 145.19 L801.28 144.55 L802.35 144.19 L801.43 143.55 L802.50 143.19 L801.58 142.55 L802.65 142.19 L801.73 141.55 L802.80 141.19 L801.88 140.55 L802.95 140.19 L802.03 139.55 L803.09 139.19 L802.18 138.55 L802.75 138.12 L803.85 137.80 L802.02 136.82 L803.12 136.50 L802.77 137.58 L804.60 136.62 L803.52 138.38 L805.35 137.42 L805.00 138.50 L806.09 138.87 L805.16 137.01 L806.92 138.12 L806.00 136.26 L807.75 137.37 L807.50 136.25 L808.52 135.76 L807.73 137.67 L809.35 136.38 L808.57 138.30 L810.18 137.01 L810.00 138.12 L811.05 138.00 L809.58 136.79 L811.47 137.02 L810.00 135.82 L811.88 136.05 L810.41 134.85 L812.30 135.08 L810.83 133.87 L811.88 133.75 L812.39 133.26 L811.41 132.74 L812.42 132.26 L811.44 131.74 L812.45 131.26 L811.47 130.74 L812.48 130.26 L811.50 129.74 L812.51 129.26 L811.53 128.74 L812.54 128.26 L811.56 127.74 L812.57 127.26 L811.59 126.74 L812.60 126.26 L811.62 125.74 L812.63 125.26 L811.65 124.74 L812.66 124.26 L811.68 123.74 L812.69 123.26 L811.71 122.74 L812.72 122.26 L811.74 121.74 L812.25 121.25 L811.96 121.90 L813.07 122.01 L812.31 122.83 L813.43 122.95 L812.67 123.77 L813.78 123.89 L813.02 124.71 L814.14 124.83 L813.38 125.65 L814.49 125.76 L813.73 126.59 L814.38 126.88 L814.05 125.80 L815.84 126.83 L814.79 125.05 L816.58 126.08 L816.25 125.00 L817.33 124.67 L816.29 126.46 L818.08 125.42 L817.04 127.21 L818.12 126.88 L817.68 126.31 L818.73 125.91 L817.80 125.28 L818.85 124.88 L817.91 124.26 L818.97 123.85 L818.03 123.23 L819.08 122.83 L818.15 122.20 L819.20 121.80 L818.26 121.17 L819.32 120.77 L818.38 120.15 L819.43 119.75 L818.50 119.12 L819.55 118.72 L818.61 118.09 L819.66 117.69 L818.73 117.07 L819.78 116.66 L818.85 116.04 L819.90 115.64 L818.96 115.01 L820.01 114.61 L819.08 113.98 L820.13 113.58 L819.19 112.96 L819.75 112.50 L819.41 113.14 L820.51 113.36 L819.70 114.14 L820.80 114.36 L819.98 115.14 L821.08 115.36 L820.26 116.14 L821.37 116.36 L820.55 117.14 L821.65 117.36 L820.83 118.14 L821.93 118.36 L821.12 119.14 L822.22 119.36 L821.88 120.00 L821.27 120.96 L823.28 120.45 L821.80 121.90 L823.81 121.38 L822.33 122.84 L824.34 122.32 L822.86 123.77 L824.00 123.75 L823.58 123.17 L824.64 122.80 L823.73 122.14 L824.79 121.78 L823.87 121.12 L824.94 120.75 L824.02 120.10 L825.08 119.73 L824.17 119.08 L825.23 118.71 L824.32 118.05 L825.38 117.68 L824.46 117.03 L825.53 116.66 L824.61 116.01 L825.67 115.64 L824.76 114.99 L825.82 114.62 L824.90 113.96 L825.97 113.59 L825.05 112.94 L825.62 112.50 L824.99 113.35 L826.88 113.11 L825.41 114.32 L827.29 114.09 L825.83 115.29 L827.71 115.06 L826.24 116.27 L828.13 116.03 L827.50 116.88 L827.76 117.97 L828.74 116.16 L828.76 118.22 L829.74 116.41 L830.00 117.50 L830.59 117.06 L829.70 116.35 L830.78 116.00 L829.89 115.29 L830.97 114.94 L830.08 114.24 L831.17 113.88 L830.28 113.18 L831.36 112.83 L830.47 112.12 L831.55 111.77 L830.66 111.06 L831.25 110.62 L832.23 110.95 L831.52 109.25 L833.06 110.25 L832.36 108.56 L833.89 109.56 L833.19 107.87 L834.73 108.87 L834.02 107.17 L835.00 107.50 L834.67 108.48 L836.37 107.77 L835.37 109.31 L837.06 108.61 L836.06 110.14 L837.75 109.44 L836.75 110.98 L838.45 110.27 L838.12 111.25 L838.14 112.03 L839.29 111.49 L838.94 112.71 L840.09 112.17 L839.74 113.39 L840.88 112.86 L840.53 114.08 L841.68 113.54 L841.33 114.76 L842.48 114.22 L842.50 115.00 L843.14 114.66 L842.36 113.84 L843.47 113.66 L842.69 112.84 L843.81 112.66 L843.03 111.84 L844.14 111.66 L843.36 110.84 L844.47 110.66 L843.69 109.84 L844.81 109.66 L844.03 108.84 L845.14 108.66 L844.36 107.84 L845.00 107.50 L844.67 108.58 L846.46 107.54 L845.42 109.34 L847.21 108.30 L846.88 109.38 L847.44 108.94 L846.52 108.30 L847.58 107.93 L846.66 107.30 L847.72 106.93 L846.79 106.29 L847.85 105.92 L846.93 105.28 L847.99 104.91 L847.07 104.27 L848.13 103.90 L847.21 103.26 L848.26 102.89 L847.34 102.25 L848.40 101.88 L847.48 101.25 L848.54 100.88 L847.62 100.24 L848.67 99.87 L847.75 99.23 L848.81 98.86 L847.89 98.22 L848.95 97.85 L848.03 97.21 L849.09 96.84 L848.16 96.20 L849.22 95.83 L848.30 95.20 L849.36 94.83 L848.44 94.19 L849.00 93.75 L848.67 94.39 L849.78 94.61 L848.97 95.39 L850.08 95.61 L849.27 96.39 L850.38 96.61 L849.57 97.39 L850.68 97.61 L849.87 98.39 L850.98 98.61 L850.17 99.39 L851.28 99.61 L850.47 100.39 L851.58 100.61 L851.25 101.25 L851.89 100.92 L851.10 100.11 L852.21 99.94 L851.43 99.14 L852.54 98.96 L851.75 98.16 L852.87 97.98 L852.08 97.18 L853.19 97.01 L852.41 96.20 L853.52 96.03 L852.73 95.22 L853.84 95.05 L853.06 94.24 L854.17 94.07 L853.38 93.27 L854.50 93.09 L853.71 92.29 L854.82 92.11 L854.04 91.31 L855.15 91.14 L854.36 90.33 L855.00 90.00 L854.65 90.62 L855.75 90.85 L854.92 91.61 L856.02 91.83 L855.19 92.59 L856.29 92.82 L855.46 93.57 L856.56 93.80 L855.73 94.55 L856.83 94.78 L855.99 95.54 L857.09 95.77 L856.26 96.52 L856.88 96.88 L857.95 96.46 L857.15 98.37 L858.84 97.17 L858.04 99.09 L859.73 97.89 L858.93 99.80 L860.00 99.38 L859.94 98.52 L861.26 99.12 L860.74 97.76 L862.06 98.36 L861.54 97.01 L862.86 97.61 L862.34 96.26 L863.66 96.86 L863.14 95.51 L864.00 95.62 L863.70 96.30 L864.84 96.47 L864.07 97.33 L865.21 97.50 L864.43 98.35 L865.57 98.52 L864.79 99.37 L865.93 99.54 L865.16 100.40 L866.30 100.57 L866.00 101.25 L875.00 104.38 L877.50 106.88 L896.25 107.25 L896.93 107.17 L896.82 106.20 L897.77 106.42 L897.65 105.45 L898.60 105.67 L898.75 105.00 L899.21 104.66 L899.82 105.00 L900.24 104.43 L900.85 104.77 L901.26 104.21 L901.87 104.54 L902.28 103.98 L902.89 104.32 L903.31 103.75 L903.92 104.09 L904.38 103.75 L904.27 103.07 L905.23 102.93 L904.77 102.07 L905.73 101.93 L905.62 101.25 L906.18 101.61 L905.60 102.39 L906.54 102.61 L905.96 103.39 L906.90 103.61 L906.32 104.39 L906.88 104.75 L907.35 104.42 L907.94 104.80 L908.37 104.24 L908.97 104.62 L909.39 104.06 L909.99 104.44 L910.41 103.88 L911.01 104.26 L911.44 103.70 L912.03 104.08 L912.50 103.75 L913.11 104.10 L912.64 104.97 L913.61 105.14 L913.14 106.01 L914.11 106.19 L914.00 106.88 L914.66 106.60 L914.31 105.66 L915.31 105.60 L914.96 104.66 L915.62 104.38 L915.71 105.04 L916.65 104.84 L916.47 105.79 L917.41 105.59 L917.50 106.25 L918.02 106.00 L918.01 105.30 L918.70 105.21 L918.69 104.51 L919.38 104.41 L919.37 103.72 L920.06 103.62 L920.05 102.92 L920.74 102.83 L920.73 102.13 L921.25 101.88 L921.74 102.10 L922.26 101.72 L922.74 102.14 L923.26 101.76 L923.74 102.18 L924.26 101.80 L924.74 102.22 L925.26 101.84 L925.74 102.26 L926.26 101.88 L926.74 102.30 L927.25 102.12 L927.89 101.98 L928.01 102.92 L928.82 102.42 L929.12 103.00 L929.75 102.82 L929.42 101.92 L930.38 101.97 L930.05 101.07 L931.00 101.13 L930.67 100.23 L931.63 100.28 L931.62 99.62 L931.96 99.08 L932.74 99.54 L932.94 98.66 L933.71 99.12 L933.91 98.25 L934.68 98.71 L934.88 97.83 L935.66 98.29 L936.00 97.75 L936.68 97.80 L936.57 98.76 L937.51 98.51 L937.41 99.47 L938.34 99.22 L938.50 99.88 L939.88 89.00 L940.34 88.54 L939.76 87.87 L940.56 87.49 L939.98 86.82 L940.78 86.43 L940.20 85.76 L941.00 85.38 L940.42 84.71 L940.88 84.25 L941.02 84.91 L941.96 84.67 L941.83 85.63 L942.77 85.39 L942.64 86.34 L943.58 86.10 L943.45 87.06 L944.12 87.12 L944.79 87.18 L944.68 88.14 L945.62 87.89 L945.50 88.85 L946.44 88.60 L946.33 89.56 L947.00 89.62 L956.62 90.50 L956.88 89.83 L957.77 90.51 L957.82 89.39 L958.50 89.62 L958.52 90.35 L959.61 90.02 L959.27 91.10 L960.36 90.77 L960.38 91.50" fill="none" stroke="#1f77b4" stroke-width="3.333" stroke-linejoin="round" stroke-linecap="square"/>
</svg>
<!-- axes frame -->
<rect class="ax" x="113" y="60" width="887" height="551" stroke-linejoin="miter"/>
<!-- legend -->
<rect x="124" y="71" width="502" height="39" rx="4.444" ry="4.444" fill="#ffffff" fill-opacity="0.8" stroke="#cccccc" stroke-opacity="0.8" stroke-width="2.222"/>
<rect x="131.83" y="86.833" width="47.34" height="3.333" fill="#1f77b4"/>
<text class="t10" y="96" xml:space="preserve"><tspan x="195.25" letter-spacing="0.1">cfg_merged.yaml</tspan> <tspan x="395.0">|</tspan> <tspan x="410.0">TF:</tspan> <tspan x="449.25">?</tspan> <tspan x="468">|</tspan> <tspan x="483">bars:</tspan> <tspan x="546.25">14400</tspan></text>
</svg>
</body>
</html>
